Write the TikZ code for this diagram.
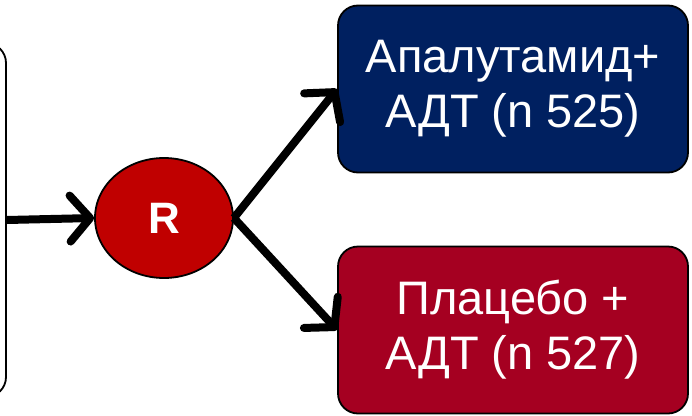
\documentclass[tikz,border=0pt]{standalone}
\usepackage{fontspec}
\setmainfont{Liberation Sans}
\usetikzlibrary{arrows.meta,shapes.geometric}

\definecolor{armnavy}{HTML}{002060}
\definecolor{armred}{HTML}{A50021}
\definecolor{randred}{HTML}{C00000}

\begin{document}
\begin{tikzpicture}[x=1pt, y=-1pt,
		armbox/.style={draw=black, line width=1.8pt, rounded corners=20pt, text=white,
			minimum width=350pt, minimum height=167pt, align=center,
			font=\fontsize{47}{55}\selectfont},
		flow/.style={line width=8pt, -{Straight Barb[length=20pt, width=46pt, round]}}]
			%%%%% START %%%%%
			
			\useasboundingbox (0, 0) rectangle (692, 415);
			\clip (0, 0) rectangle (692, 415);
			
			% study population box, runs off the left edge
			\node[draw=black, line width=1.8pt, rounded corners=20pt, fill=white,
				minimum width=300pt, minimum height=354pt] (pop) at (-144, 220) {};
			
			% randomisation
			\node[ellipse, draw=black, line width=1.8pt, fill=randred, text=white,
				minimum width=138pt, minimum height=120pt,
				font=\fontsize{44}{44}\selectfont\bfseries] (rand) at (164, 218) {R};
			
			% treatment arms
			\node[armbox, fill=armnavy] (apa) at (513, 89) {Апалутамид+\\АДТ (n 525)};
			\node[armbox, fill=armred] (pla) at (513, 330) {Плацебо +\\АДТ (n 527)};
			
			\draw[flow] (pop.east) -- (rand.west);
			\draw[flow] (rand.east) -- (apa.west);
			\draw[flow] (rand.east) -- (pla.west);
			
			%%%%% END %%%%%
		\end{tikzpicture}
\end{document}
